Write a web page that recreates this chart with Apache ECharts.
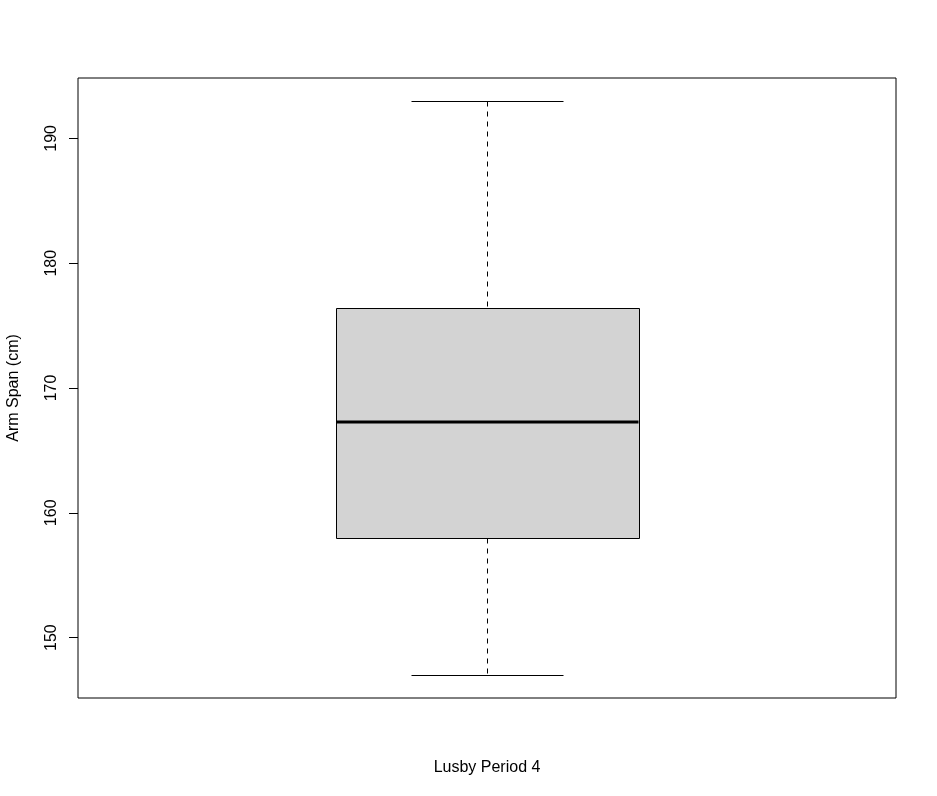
<!DOCTYPE html>
<html>
<head>
<meta charset="utf-8">
<script src="https://cdn.jsdelivr.net/npm/echarts@6/dist/echarts.min.js"></script>
<style>
html,body{margin:0;padding:0;background:#fff;}
#chart{width:937px;height:796px;}
</style>
</head>
<body>
<div id="chart"></div>
<script>
// ---- data ----
const categories = ['Lusby Period 4'];
const lowerWhisker = [147];
const lowerQuartile = [158];
const medians = [167.3];
const upperQuartile = [176.4];
const upperWhisker = [193];
const yTicks = [150, 160, 170, 180, 190];
const yAxisTitle = 'Arm Span (cm)';
const xAxisTitle = 'Lusby Period 4';

const yMin = 145.16, yMax = 194.84;

const seriesData = categories.map((c, i) => [i, lowerWhisker[i], lowerQuartile[i], medians[i], upperQuartile[i], upperWhisker[i]]);

const FONT = '"Liberation Sans", Arial, sans-serif';

function px(v) { return Math.round(v) + 0.5; }

const chart = echarts.init(document.getElementById('chart'), null, {renderer: 'canvas'});
chart.setOption({
  backgroundColor: '#ffffff',
  animation: false,
  grid: {left: 78, right: 41, top: 78, bottom: 98, containLabel: false, outerBoundsMode: 'none', show: true, borderColor: '#000', borderWidth: 1, backgroundColor: 'transparent'},
  xAxis: {
    type: 'category',
    data: categories,
    axisLine: {show: false},
    axisTick: {show: false},
    axisLabel: {show: false},
    splitLine: {show: false},
    name: xAxisTitle,
    nameLocation: 'middle',
    nameGap: 62,
    nameTextStyle: {fontFamily: FONT, fontSize: 16, color: '#000'}
  },
  yAxis: {
    type: 'value',
    min: yMin,
    max: yMax,
    axisLine: {show: false},
    splitLine: {show: false},
    axisTick: {show: true, length: 9, customValues: yTicks, lineStyle: {color: '#000', width: 1}},
    axisLabel: {show: true, rotate: 90, margin: 18, customValues: yTicks, fontFamily: FONT, fontSize: 16, color: '#000'},
    name: yAxisTitle,
    nameLocation: 'middle',
    nameGap: 56,
    nameTextStyle: {fontFamily: FONT, fontSize: 16, color: '#000'}
  },
  series: [{
    type: 'custom',
    data: seriesData,
    encode: {x: 0, y: [1, 2, 3, 4, 5]},
    renderItem: function (params, api) {
      const idx = api.value(0);
      const band = api.size([1, 0])[0];
      const cx = api.coord([idx, api.value(3)])[0];
      const yLo = api.coord([idx, api.value(1)])[1];
      const yQ1 = api.coord([idx, api.value(2)])[1];
      const yMed = api.coord([idx, api.value(3)])[1];
      const yQ3 = api.coord([idx, api.value(4)])[1];
      const yHi = api.coord([idx, api.value(5)])[1];
      const boxHalf = band * 0.185;
      const capHalf = boxHalf / 2;
      const x = px(cx);
      const solid = {stroke: '#000', lineWidth: 1, fill: null};
      const dashed = {stroke: '#000', lineWidth: 1, lineDash: [5, 5], fill: null};
      return {
        type: 'group',
        children: [
          {type: 'line', shape: {x1: x, y1: px(yHi), x2: x, y2: px(yQ3)}, style: dashed},
          {type: 'line', shape: {x1: x, y1: px(yQ1), x2: x, y2: px(yLo)}, style: dashed},
          {type: 'line', shape: {x1: px(cx - capHalf), y1: px(yHi), x2: px(cx + capHalf), y2: px(yHi)}, style: solid},
          {type: 'line', shape: {x1: px(cx - capHalf), y1: px(yLo), x2: px(cx + capHalf), y2: px(yLo)}, style: solid},
          {type: 'rect', shape: {x: px(cx - boxHalf), y: px(yQ3), width: Math.round(2 * boxHalf), height: Math.round(yQ1) - Math.round(yQ3)}, style: {fill: '#d3d3d3', stroke: '#000', lineWidth: 1}},
          {type: 'line', shape: {x1: px(cx - boxHalf), y1: Math.round(yMed), x2: px(cx + boxHalf), y2: Math.round(yMed)}, style: {stroke: '#000', lineWidth: 3}}
        ]
      };
    }
  }]
});
</script>
</body>
</html>
